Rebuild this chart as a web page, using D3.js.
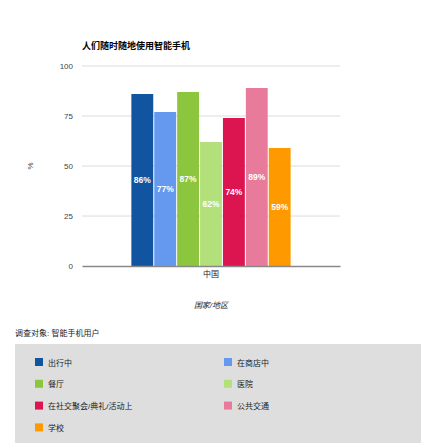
<!DOCTYPE html>
<html>
<head>
<meta charset="utf-8">
<script src="https://cdn.jsdelivr.net/npm/d3@7"></script>
<style>
  body { margin: 0; background: #fff; }
  text { font-family: "Liberation Sans", Arial, "Noto Sans CJK SC", sans-serif; }
</style>
</head>
<body>
<div id="chart"></div>
<script>
var svgWidth = 423;
var svgHeight = 446;

// data
var categories = ["中国"];
var seriesNames = ["出行中", "在商店中", "餐厅", "医院", "在社交聚会/典礼/活动上", "公共交通", "学校"];
var seriesValues = [86, 77, 87, 62, 74, 89, 59];
var seriesColors = ["#1155a0", "#6499ef", "#8cc63f", "#b3e07a", "#dc1450", "#e87b9c", "#ff9900"];
var yTicks = [0, 25, 50, 75, 100];

var margin = {top: 66, left: 82, right: 83, bottom: 180};
var width = svgWidth - margin.left - margin.right;
var height = svgHeight - margin.top - margin.bottom;

var svg = d3.select("#chart")
  .append("svg")
    .attr("width", svgWidth)
    .attr("height", svgHeight);

// title
svg.append("text")
  .attr("x", 82)
  .attr("y", 49)
  .attr("font-size", 9)
  .attr("font-weight", "bold")
  .attr("fill", "#000")
  .text("人们随时随地使用智能手机");

var chartGroup = svg.append("g")
  .attr("transform", `translate(${margin.left}, ${margin.top})`);

var yScale = d3.scaleLinear()
  .domain([0, 100])
  .range([height, 0]);

var xScale = d3.scaleBand()
  .domain(categories)
  .range([0, width])
  .paddingInner(0)
  .paddingOuter(0.31);

var xSub = d3.scaleBand()
  .domain(seriesNames)
  .range([0, xScale.bandwidth()])
  .paddingInner(0.045);

// gridlines
chartGroup.append("g")
  .selectAll("line")
  .data(yTicks.filter(d => d > 0))
  .enter()
  .append("line")
    .attr("x1", 0)
    .attr("x2", width)
    .attr("y1", d => yScale(d))
    .attr("y2", d => yScale(d))
    .attr("stroke", "#dcdcdc")
    .attr("stroke-width", 1);

// y axis
var yAxis = d3.axisLeft(yScale).tickValues(yTicks).tickSize(0).tickPadding(9);
var yAxisG = chartGroup.append("g").call(yAxis);
yAxisG.select(".domain").remove();
yAxisG.selectAll("text")
  .attr("font-size", 8)
  .attr("fill", "#444");

// bars
var barData = seriesNames.map((s, i) => ({name: s, value: seriesValues[i], color: seriesColors[i], cat: categories[0]}));

var barGroup = chartGroup.append("g");
barGroup.selectAll("rect")
  .data(barData)
  .enter()
  .append("rect")
    .attr("x", d => xScale(d.cat) + xSub(d.name))
    .attr("y", d => yScale(d.value))
    .attr("width", xSub.bandwidth())
    .attr("height", d => height - yScale(d.value))
    .attr("fill", d => d.color);

barGroup.selectAll("text")
  .data(barData)
  .enter()
  .append("text")
    .attr("x", d => xScale(d.cat) + xSub(d.name) + xSub.bandwidth() / 2)
    .attr("y", d => (yScale(d.value) + height) / 2 + 3)
    .attr("text-anchor", "middle")
    .attr("font-size", 8.5)
    .attr("font-weight", "bold")
    .attr("fill", "#fff")
    .text(d => d.value + "%");

// x axis baseline
var xAxis = d3.axisBottom(xScale).tickSize(0).tickPadding(5);
var xAxisG = chartGroup.append("g")
  .attr("transform", `translate(0, ${height})`)
  .call(xAxis);
xAxisG.select(".domain")
  .attr("stroke", "#888")
  .attr("stroke-width", 1.5);
xAxisG.selectAll("text")
  .attr("font-size", 8)
  .attr("fill", "#222");

// axis titles
svg.append("text")
  .attr("transform", "translate(33, 166) rotate(-90)")
  .attr("text-anchor", "middle")
  .attr("font-size", 8)
  .attr("fill", "#444")
  .text("%");

svg.append("text")
  .attr("x", margin.left + width / 2)
  .attr("y", 308)
  .attr("text-anchor", "middle")
  .attr("font-size", 8)
  .attr("font-style", "italic")
  .attr("fill", "#222")
  .text("国家/地区");

svg.append("text")
  .attr("x", 15)
  .attr("y", 336)
  .attr("font-size", 8)
  .attr("fill", "#222")
  .text("调查对象: 智能手机用户");

// legend
svg.append("rect")
  .attr("x", 15)
  .attr("y", 344)
  .attr("width", 406)
  .attr("height", 99)
  .attr("fill", "#dedede");

var legend = svg.append("g")
  .selectAll("g")
  .data(barData)
  .enter()
  .append("g")
    .attr("transform", (d, i) => `translate(${i % 2 === 0 ? 35 : 224}, ${358 + Math.floor(i / 2) * 21.8})`);

legend.append("rect")
  .attr("width", 8)
  .attr("height", 8)
  .attr("fill", d => d.color);

legend.append("text")
  .attr("x", 13)
  .attr("y", 7.5)
  .attr("font-size", 8)
  .attr("fill", "#222")
  .text(d => d.name);
</script>
</body>
</html>
